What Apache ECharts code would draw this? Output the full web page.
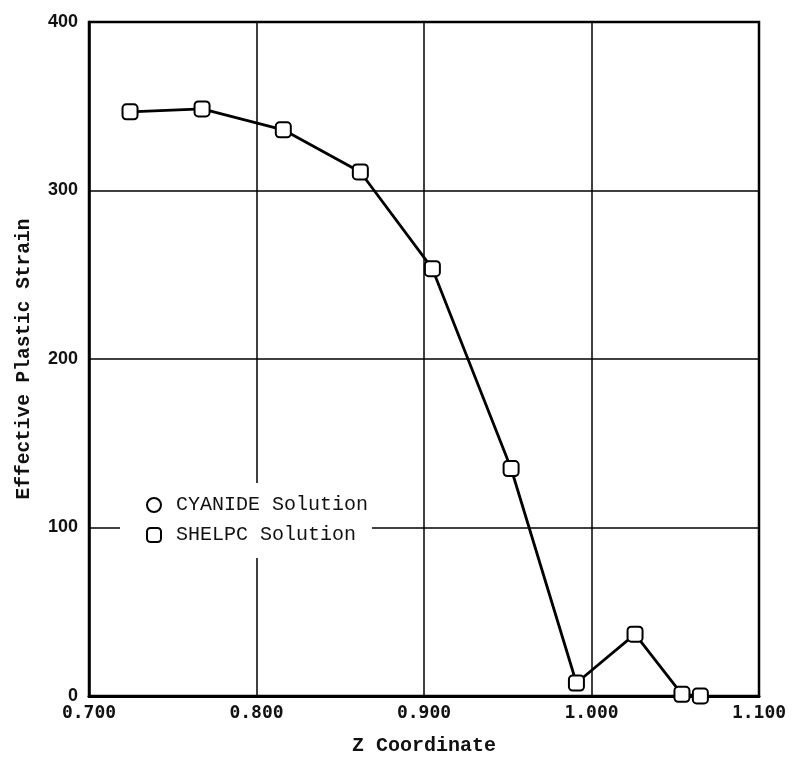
<!DOCTYPE html>
<html>
<head>
<meta charset="utf-8">
<script src="https://cdn.jsdelivr.net/npm/echarts@6/dist/echarts.min.js"></script>
<style>
html,body{margin:0;padding:0;background:#fff;}
#chart{width:801px;height:761px;}
</style>
</head>
<body>
<div id="chart"></div>
<script>
// Data
const zCoord = [0.7245, 0.7675, 0.816, 0.862, 0.905, 0.952, 0.991, 1.026, 1.054, 1.065];
const shelpcStrain = [346.7, 348.4, 336, 311, 253.6, 135, 7.7, 36.7, 1, 0];
const cyanideStrain = [];
const xTicks = [0.7, 0.8, 0.9, 1.0, 1.1];
const yTicks = [0, 100, 200, 300, 400];
const seriesNames = ['CYANIDE Solution', 'SHELPC Solution'];
const xAxisTitle = 'Z Coordinate';
const yAxisTitle = 'Effective Plastic Strain';

const shelpcData = zCoord.map((z, i) => [z, shelpcStrain[i]]);

const chart = echarts.init(document.getElementById('chart'), null, {renderer: 'canvas'});
chart.setOption({
  backgroundColor: '#ffffff',
  animation: false,
  grid: {
    left: 89, right: 42, top: 22, bottom: 64,
    show: true, borderColor: '#000', borderWidth: 2.5, backgroundColor: 'transparent'
  },
  legend: {
    orient: 'vertical',
    left: 120, top: 483,
    padding: [12, 4, 13, 26],
    backgroundColor: '#ffffff',
    itemWidth: 14, itemHeight: 14, itemGap: 10,
    textStyle: {fontFamily: 'Liberation Mono', fontSize: 20, color: '#111', padding: [0, 0, 0, 10]},
    data: [
      {name: seriesNames[0], icon: 'circle'},
      {name: seriesNames[1], icon: 'roundRect'}
    ]
  },
  xAxis: {
    type: 'value',
    min: xTicks[0], max: xTicks[xTicks.length - 1], interval: 0.1,
    name: xAxisTitle, nameLocation: 'middle', nameGap: 40,
    nameTextStyle: {fontFamily: 'Liberation Mono', fontWeight: 'bold', fontSize: 20, color: '#111'},
    axisLine: {show: true, onZero: false, lineStyle: {color: '#000', width: 3}},
    axisTick: {show: false},
    axisLabel: {
      margin: 8, color: '#111',
      fontFamily: 'DejaVu Sans Mono', fontWeight: 'bold', fontSize: 18,
      formatter: v => v.toFixed(3)
    },
    splitLine: {show: true, lineStyle: {color: '#000', width: 1.5}}
  },
  yAxis: {
    type: 'value',
    min: yTicks[0], max: yTicks[yTicks.length - 1], interval: 100,
    name: yAxisTitle, nameLocation: 'middle', nameGap: 55, nameRotate: 90,
    nameTextStyle: {fontFamily: 'Liberation Mono', fontWeight: 'bold', fontSize: 19.5, color: '#111'},
    axisLine: {show: true, lineStyle: {color: '#000', width: 2.5}},
    axisTick: {show: false},
    axisLabel: {
      margin: 11, color: '#111',
      fontFamily: 'Liberation Sans', fontWeight: 'bold', fontSize: 18,
      verticalAlign: 'middle', padding: [0, 0, 8, 0]
    },
    splitLine: {show: true, lineStyle: {color: '#000', width: 1.5}}
  },
  series: [
    {
      name: seriesNames[0],
      type: 'line',
      data: cyanideStrain,
      symbol: 'circle', symbolSize: 14,
      itemStyle: {color: '#fff', borderColor: '#000', borderWidth: 2},
      lineStyle: {color: '#000', width: 2.5}
    },
    {
      name: seriesNames[1],
      type: 'line',
      data: shelpcData,
      symbol: 'roundRect', symbolSize: 15,
      clip: false,
      itemStyle: {color: '#fff', borderColor: '#000', borderWidth: 2},
      lineStyle: {color: '#000', width: 2.8},
      z: 5
    }
  ]
});
</script>
</body>
</html>
